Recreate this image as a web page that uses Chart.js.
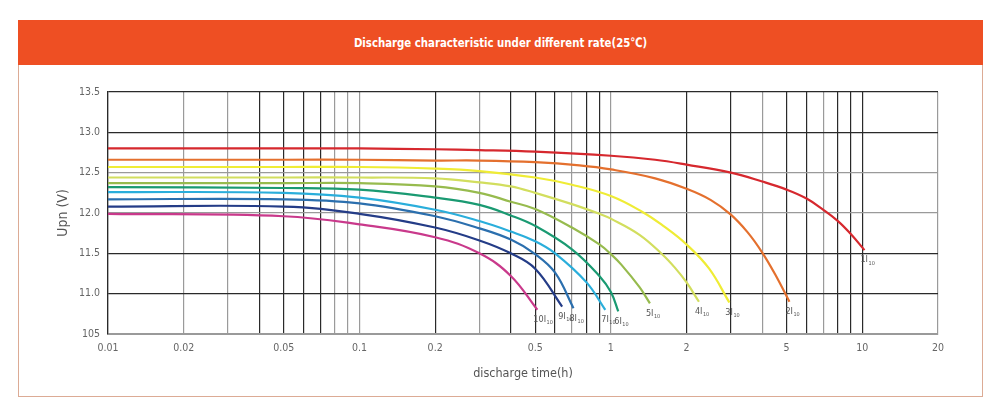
<!DOCTYPE html>
<html>
<head>
<meta charset="utf-8">
<script src="https://cdn.jsdelivr.net/npm/chart.js@4.4.1/dist/chart.umd.min.js"></script>
<style>
  html, body { margin:0; padding:0; background:#fff; width:1000px; height:416px; overflow:hidden; }
  .frame { position:absolute; left:18px; top:20px; width:965px; height:377px; border:1px solid #dcab95; box-sizing:border-box; }
  .bar { position:absolute; left:18px; top:20px; width:965px; height:45px; background:#ee4f23;
         color:#fff; font-family:"Liberation Sans Narrow","DejaVu Sans Condensed",sans-serif; font-weight:bold;
         font-size:13px; line-height:45px; text-align:center; }
  .bar span { display:inline-block; transform:scaleX(0.87); }
  canvas { position:absolute; left:0; top:0; }
</style>
</head>
<body>
<div class="frame"></div>
<div class="bar"><span>Discharge characteristic under different rate(25℃)</span></div>
<canvas id="c" width="1000" height="416"></canvas>
<script>
// ---- data ----
const rates = ['1','2','3','4','5','6','7','8','9','10'];
const t1  = [0.01,0.05,0.1,0.2,0.3,0.5,1,1.5,2,3,4,5,6,7,8,9,10.2];
const v1  = [12.80,12.80,12.80,12.79,12.78,12.76,12.71,12.66,12.60,12.50,12.39,12.29,12.18,12.04,11.90,11.74,11.54];
const t2  = [0.01,0.05,0.1,0.2,0.3,0.5,0.75,1,1.5,2,2.5,3,3.5,4,4.5,5.13];
const v2  = [12.66,12.66,12.66,12.65,12.65,12.63,12.59,12.54,12.43,12.30,12.16,11.98,11.76,11.51,11.24,10.90];
const t3  = [0.01,0.05,0.1,0.2,0.3,0.5,0.7,1,1.34,1.6,2,2.46,2.96];
const v3  = [12.57,12.57,12.57,12.55,12.52,12.44,12.35,12.21,12.01,11.85,11.61,11.31,10.89];
const t4  = [0.01,0.05,0.1,0.2,0.3,0.4,0.5,0.7,0.9,1,1.3,1.61,1.8,2,2.24];
const v4  = [12.44,12.44,12.44,12.43,12.38,12.33,12.25,12.11,11.99,11.93,11.73,11.48,11.32,11.14,10.90];
const t5  = [0.01,0.05,0.1,0.2,0.3,0.4,0.5,0.7,0.9,1,1.1,1.3,1.43];
const v5  = [12.37,12.37,12.37,12.33,12.25,12.14,12.05,11.82,11.61,11.49,11.36,11.08,10.88];
const t6  = [0.01,0.05,0.1,0.2,0.3,0.4,0.5,0.7,0.9,1,1.07];
const v6  = [12.32,12.31,12.29,12.19,12.10,11.97,11.84,11.55,11.22,11.02,10.78];
const t7  = [0.01,0.05,0.1,0.2,0.3,0.4,0.5,0.6,0.8,0.95];
const v7  = [12.26,12.25,12.19,12.04,11.90,11.77,11.65,11.50,11.14,10.80];
const t8  = [0.01,0.05,0.1,0.2,0.3,0.4,0.5,0.6,0.71];
const v8  = [12.17,12.17,12.12,11.96,11.81,11.67,11.49,11.26,10.82];
const t9  = [0.01,0.05,0.1,0.2,0.3,0.4,0.5,0.64];
const v9  = [12.08,12.08,11.99,11.82,11.66,11.50,11.31,10.84];
const t10 = [0.01,0.05,0.1,0.2,0.3,0.4,0.51];
const v10 = [11.99,11.96,11.86,11.70,11.50,11.22,10.80];

const xGrid = [0.01,0.02,0.03,0.04,0.05,0.06,0.07,0.08,0.09,0.1,0.2,0.3,0.4,0.5,0.6,0.7,0.8,0.9,1,2,3,4,5,6,7,8,9,10,20];
const xTickVals = [0.01,0.02,0.05,0.1,0.2,0.5,1,2,5,10,20];
const xTickText = ['0.01','0.02','0.05','0.1','0.2','0.5','1','2','5','10','20'];
const yTickVals = [10.5,11.0,11.5,12.0,12.5,13.0,13.5];
const yTickText = ['105','11.0','11.5','12.0','12.5','13.0','13.5'];

// ---- styles ----
const colors = ['#d6282e','#e4702e','#efec35','#d2de5e','#97bb4e','#1a9a72','#2aaedb','#2b6fae','#243c87','#c9398b'];
const grayX = [0.02,0.03,0.08,0.09,0.1,0.3,0.7,1,4,7,20];
const grayY = [12.5,12.0,10.5];
const FONT = '"Liberation Sans Narrow","DejaVu Sans Condensed",sans-serif';

const ts = [t1,t2,t3,t4,t5,t6,t7,t8,t9,t10];
const vs = [v1,v2,v3,v4,v5,v6,v7,v8,v9,v10];
const near = (a,b) => Math.abs(a-b) < 1e-6;

const datasets = rates.map((r,i) => ({
  label: r + 'I10',
  data: ts[i].map((t,j) => ({x:t, y:vs[i][j]})),
  borderColor: colors[i],
  borderWidth: 2.2,
  pointRadius: 0,
  fill: false,
  tension: 0.4
}));

const endLabels = {
  id: 'endLabels',
  afterDatasetsDraw(chart) {
    const ctx = chart.ctx;
    ctx.save();
    chart.data.datasets.forEach((ds, i) => {
      const meta = chart.getDatasetMeta(i);
      const p = meta.data[meta.data.length - 1];
      const x = p.x - 4, y = p.y + 10;
      ctx.fillStyle = '#555';
      ctx.textBaseline = 'middle';
      ctx.textAlign = 'left';
      ctx.font = '9px ' + FONT;
      const main = rates[i] + 'I';
      ctx.fillText(main, x, y);
      const w = ctx.measureText(main).width;
      ctx.font = '5.5px ' + FONT;
      ctx.fillText('10', x + w + 0.5, y + 3);
    });
    ctx.restore();
  }
};

new Chart(document.getElementById('c'), {
  type: 'line',
  data: { datasets },
  options: {
    responsive: false,
    animation: false,
    devicePixelRatio: 1,
    layout: { padding: { left: 0, top: 92, right: 62, bottom: 0 } },
    plugins: { legend: { display: false }, tooltip: { enabled: false }, title: { display: false } },
    scales: {
      x: {
        type: 'logarithmic',
        min: 0.01, max: 20,
        afterBuildTicks: (s) => { s.ticks = xGrid.map(v => ({ value: v })); },
        afterFit: (s) => { s.height = 82; },
        grid: {
          drawTicks: false,
          lineWidth: 1.2,
          color: (c) => grayX.some(g => near(c.tick ? c.tick.value : 0, g)) ? '#9a9a9a' : '#2a2a2a'
        },
        border: { display: true, color: '#9a9a9a', width: 2 },
        ticks: {
          autoSkip: false, maxRotation: 0, padding: 8,
          color: '#666', font: { family: FONT, size: 10.5 },
          callback: (val) => { const k = xTickVals.findIndex(v => near(v, val)); return k >= 0 ? xTickText[k] : ''; }
        },
        title: { display: true, text: 'discharge time(h)', color: '#555', font: { family: FONT, size: 12.5 }, padding: { top: 0, bottom: 35 } }
      },
      y: {
        min: 10.5, max: 13.5,
        afterBuildTicks: (s) => { s.ticks = yTickVals.map(v => ({ value: v })); },
        afterFit: (s) => { s.width = 108; },
        grid: {
          drawTicks: false,
          lineWidth: 1.2,
          color: (c) => grayY.some(g => near(c.tick ? c.tick.value : 0, g)) ? '#9a9a9a' : '#2a2a2a'
        },
        border: { display: true, color: '#2a2a2a', width: 1.2 },
        ticks: {
          padding: 8, color: '#666', font: { family: FONT, size: 10.5 },
          callback: (val) => { const k = yTickVals.findIndex(v => near(v, val)); return k >= 0 ? yTickText[k] : ''; }
        },
        title: { display: true, text: 'Upn (V)', color: '#555', font: { family: FONT, size: 14 }, padding: { top: 55, bottom: 0 } }
      }
    }
  },
  plugins: [endLabels]
});
</script>
</body>
</html>
